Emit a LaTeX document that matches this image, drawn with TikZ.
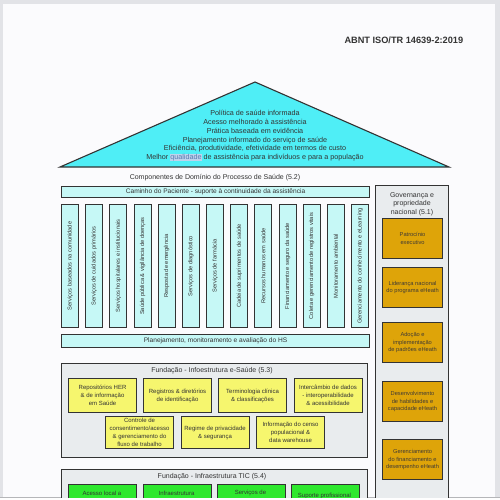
\documentclass[tikz,border=0pt]{standalone}
\usepackage{fontspec}
\setmainfont{Liberation Sans}
\definecolor{pagebg}{HTML}{FBFBFD}
\definecolor{frame}{HTML}{E2E3E7}
\definecolor{ink}{HTML}{333333}
\definecolor{roofc}{HTML}{4FEEF6}
\definecolor{lcyan}{HTML}{C6F8F6}
\definecolor{panel}{HTML}{E9ECEE}
\definecolor{yel}{HTML}{F6F66E}
\definecolor{grn}{HTML}{2EE82E}
\definecolor{gold}{HTML}{DEA409}
\definecolor{hl}{HTML}{BFD3EC}
\definecolor{hltext}{HTML}{5A7AB0}
\begin{document}
\begin{tikzpicture}[x=1pt,y=-1pt,
  every node/.style={text=ink},
  bx/.style={draw=ink, line width=1.1pt, inner sep=1pt, anchor=north west, align=center},
  colbox/.style={bx, fill=lcyan, minimum width=17pt, minimum height=123pt, font=\fontsize{5.7}{6.5}\selectfont},
  bar/.style={bx, fill=lcyan, minimum width=308pt, font=\fontsize{6.6}{7.5}\selectfont},
  ybox/.style={bx, fill=yel, minimum width=68pt, font=\fontsize{6}{8}\selectfont},
  gbox/.style={bx, fill=grn, minimum width=68pt, minimum height=30pt, font=\fontsize{6}{8}\selectfont},
  obox/.style={bx, fill=gold, minimum width=60pt, minimum height=40pt, font=\fontsize{5.7}{7.6}\selectfont, text=ink!90!brown},
  pnl/.style={bx, fill=panel},
  ttl/.style={font=\fontsize{7}{8.5}\selectfont, align=center}]
\useasboundingbox (0,0) rectangle (500,500);
\fill[frame] (0,0) rectangle (500,500);
\fill[pagebg] (3,4) rectangle (495,497);
\fill[white!97!frame] (0,498) rectangle (500,500);
\draw[frame!80!black, line width=0.6pt] (0,497.5) -- (500,497.5);
\begin{scope}
\clip (0,0) rectangle (500,497);
% header
\node[font=\bfseries\fontsize{9.2}{11}\selectfont, anchor=west] (hdr) at (341,40) {ABNT ISO/TR 14639-2:2019};
% roof
\draw[ink, line width=1.1pt, fill=roofc] (60,167) -- (255,82) -- (449,167) -- cycle;
\node[font=\fontsize{7.2}{8.7}\selectfont, align=center, anchor=south] (rooftxt) at (255,164.5)
 {Política de saúde informada\\ Acesso melhorado à assistência\\ Prática baseada em evidência\\ Planejamento informado do serviço de saúde\\ Eficiência, produtividade, efetividade em termos de custo\\ Melhor {\setlength\fboxsep{0pt}\colorbox{hl}{\color{hltext}qualidade}} de assistência para indivíduos e para a população};
% domain
\node[ttl] (dom) at (215,178) {Componentes de Domínio do Processo de Saúde (5.2)};
\node[bar, minimum height=11pt] (cam) at (61,186) {Caminho do Paciente - suporte à continuidade da assistência};
\foreach \t [count=\i from 0] in {Serviços baseados na comunidade, Serviços de cuidados primários, Serviços hospitalares e institucionais, Saúde pública \& vigilância de doenças, Resposta de emergência, Serviços de diagnóstico, Serviços de farmácia, Cadeia de suprimentos de saúde, Recursos humanos em saúde, Financiamento e seguro da saúde, Coleta e gerenciamento de registros vitais, Monitoramento ambiental, Gerenciamento do conhecimento e eLearning}
  \node[colbox] (col\i) at ({61+\i*24.17},204) {\rotatebox{90}{\t}};
\node[bar, minimum height=13pt] (plan) at (61,334) {Planejamento, monitoramento e avaliação do HS};
% e-Saude foundation
\node[pnl, minimum width=306pt, minimum height=94pt] (fes) at (61,363) {};
\node[ttl] (fest) at (212,371) {Fundação - Infoestrutura e-Saúde (5.3)};
\node[ybox, minimum height=34pt] (y1) at (68,378) {Repositórios HER\\ \& de informação\\ em Saúde};
\node[ybox, minimum height=34pt] (y2) at (143,378) {Registros \& diretórios\\ de identificação};
\node[ybox, minimum height=34pt] (y3) at (218,378) {Terminologia clínica\\ \& classificações};
\node[ybox, minimum height=34pt] (y4) at (293.5,378) {Intercâmbio de dados\\ - interoperabilidade\\ \& acessibilidade};
\node[ybox, minimum height=32pt] (y5) at (105,416) {Controle de\\ consentimento/acesso\\ \& gerenciamento do\\ fluxo de trabalho};
\node[ybox, minimum height=32pt] (y6) at (180.5,416) {Regime de privacidade\\ \& segurança};
\node[ybox, minimum height=32pt] (y7) at (256,416) {Informação do censo\\ populacional \&\\ data warehouse};
% TIC foundation
\node[pnl, minimum width=306pt, minimum height=60pt] (ftic) at (61,469) {};
\node[ttl] (tict) at (212,477) {Fundação - Infraestrutura TIC (5.4)};
\node[gbox] (g1) at (68,484) {};
\node[font=\fontsize{6}{8}\selectfont] (g1t) at (102,493) {Acesso local a};
\node[gbox] (g2) at (143,484) {};
\node[font=\fontsize{6}{8}\selectfont] (g2t) at (176.5,493) {Infraestrutura};
\node[gbox] (g3) at (217,484) {};
\node[font=\fontsize{6}{8}\selectfont] (g3t) at (250.5,493) {Serviços de};
\node[gbox] (g4) at (291,484) {};
\node[font=\fontsize{6}{8}\selectfont] (g4t) at (324.5,496) {Suporte profissional};
% governance
\node[pnl, minimum width=73pt, minimum height=330pt] (gov) at (375,185) {};
\node[ttl, anchor=north] (govt) at (412,189) {Governança e\\ propriedade\\ nacional (5.1)};
\node[obox] (o1) at (382,218) {Patrocínio\\ executivo};
\node[obox] (o2) at (382,267) {Liderança nacional\\ do programa eHeath};
\node[obox] (o3) at (382,322) {Adoção e\\ implementação\\ de padrões eHeath};
\node[obox] (o4) at (382,381) {Desenvolvimento\\ de habilidades e\\ capacidade eHeath};
\node[obox] (o5) at (382,439) {Gerenciamento\\ do financiamento e\\ desempenho eHeath};
\node[obox] (o6) at (382,498) {};
\end{scope}
\end{tikzpicture}
\end{document}
